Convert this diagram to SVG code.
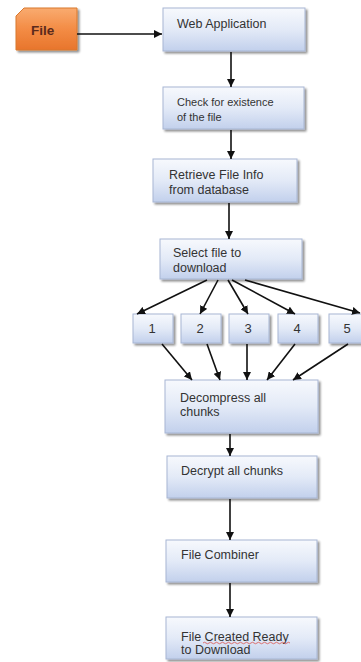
<svg xmlns="http://www.w3.org/2000/svg" width="361" height="662" viewBox="0 0 361 662">
<defs>
<linearGradient id="blue" x1="0" y1="0" x2="0" y2="1">
<stop offset="0" stop-color="#f7f9fd"/>
<stop offset="0.5" stop-color="#e3eaf7"/>
<stop offset="1" stop-color="#c2d0ec"/>
</linearGradient>
<linearGradient id="orange" x1="0" y1="0" x2="0" y2="1">
<stop offset="0" stop-color="#f9ab70"/>
<stop offset="0.5" stop-color="#f38c45"/>
<stop offset="1" stop-color="#e8752c"/>
</linearGradient>
<filter id="sh" x="-10%" y="-10%" width="130%" height="140%">
<feGaussianBlur in="SourceAlpha" stdDeviation="1.2"/>
<feOffset dx="1.5" dy="2" result="b"/>
<feComponentTransfer><feFuncA type="linear" slope="0.45"/></feComponentTransfer>
<feMerge><feMergeNode/><feMergeNode in="SourceGraphic"/></feMerge>
</filter>
<marker id="ah" viewBox="0 0 10 10" refX="10" refY="5" markerWidth="8" markerHeight="8" markerUnits="userSpaceOnUse" orient="auto">
<path d="M0,0 L10,5 L0,10 z" fill="#111"/>
</marker>
</defs>
<style>
.box{fill:url(#blue);stroke:#a7b6d3;stroke-width:1;filter:url(#sh)}
.t{font-family:"Liberation Sans",Arial,sans-serif;font-size:12.5px;fill:#333}
.s{font-size:11px}
.n{font-size:13px;text-anchor:middle}
.c{stroke:#111;stroke-width:1.6;fill:none;marker-end:url(#ah)}
</style>
<rect width="361" height="662" fill="#ffffff"/>
<g id="file">
<path d="M24,8 L77,8 L77,50 L16,50 L16,16 Z" fill="url(#orange)" stroke="#d9782f" stroke-width="1" filter="url(#sh)"/>
<text x="31" y="35" font-family="Liberation Sans,Arial,sans-serif" font-size="13.5" font-weight="bold" fill="#5b2a1c">File</text>
</g>
<g id="web">
<rect class="box" x="163" y="8" width="142" height="43"/>
<text class="t" x="177" y="28" font-size="13">Web Application</text>
</g>
<g id="check">
<rect class="box" x="163" y="87" width="141" height="42"/>
<text class="t s" x="177" y="106">Check for existence</text>
<text class="t s" x="177" y="121">of the file</text>
</g>
<g id="retrieve">
<rect class="box" x="153" y="159" width="144" height="43"/>
<text class="t" x="169" y="179">Retrieve File Info</text>
<text class="t" x="169" y="194">from database</text>
</g>
<g id="select">
<rect class="box" x="160" y="239" width="142" height="40"/>
<text class="t" x="173" y="257">Select file to</text>
<text class="t" x="173" y="272">download</text>
</g>
<g id="chunk1"><rect class="box" x="133" y="314" width="40" height="29"/><text class="t n" x="152" y="333">1</text></g>
<g id="chunk2"><rect class="box" x="181" y="314" width="40" height="29"/><text class="t n" x="200" y="333">2</text></g>
<g id="chunk3"><rect class="box" x="229" y="314" width="40" height="29"/><text class="t n" x="248" y="333">3</text></g>
<g id="chunk4"><rect class="box" x="278" y="314" width="40" height="29"/><text class="t n" x="297" y="333">4</text></g>
<g id="chunk5"><rect class="box" x="329" y="314" width="40" height="29"/><text class="t n" x="347" y="333">5</text></g>
<g id="decompress">
<rect class="box" x="165" y="380" width="153" height="53"/>
<text class="t" x="180" y="402">Decompress all</text>
<text class="t" x="180" y="416">chunks</text>
</g>
<g id="decrypt">
<rect class="box" x="167" y="456" width="150" height="42"/>
<text class="t" x="181" y="475">Decrypt all chunks</text>
</g>
<g id="combiner">
<rect class="box" x="166" y="540" width="151" height="42"/>
<text class="t" x="181" y="559">File Combiner</text>
</g>
<g id="final">
<rect class="box" x="166" y="617" width="151" height="42"/>
<text class="t" x="181" y="641">File Created Ready</text>
<text class="t" x="181" y="654">to Download</text>
<path d="M203,643 q1.5,-1.5 3,0 t3,0 t3,0 t3,0 t3,0 t3,0 t3,0 t3,0 t3,0 t3,0 t3,0 t3,0 t3,0 t3,0 t3,0 t3,0 t3,0 t3,0 t3,0 t3,0 t3,0 t3,0 t3,0 t3,0 t3,0 t3,0 t3,0 t3,0 t3,0" fill="none" stroke="#d9534f" stroke-width="0.8"/>
</g>
<g id="connectors">
<line class="c" x1="77" y1="34" x2="162" y2="34"/>
<line class="c" x1="231" y1="52" x2="231" y2="87"/>
<line class="c" x1="231" y1="130" x2="231" y2="159"/>
<line class="c" x1="229" y1="203" x2="229" y2="239"/>
<line class="c" x1="207" y1="280" x2="137" y2="314"/>
<line class="c" x1="218" y1="280" x2="200" y2="314"/>
<line class="c" x1="228" y1="280" x2="248" y2="314"/>
<line class="c" x1="232" y1="280" x2="295" y2="314"/>
<line class="c" x1="245" y1="280" x2="360" y2="313"/>
<line class="c" x1="162" y1="344" x2="192" y2="380"/>
<line class="c" x1="207" y1="344" x2="220" y2="380"/>
<line class="c" x1="247" y1="344" x2="247" y2="380"/>
<line class="c" x1="295" y1="344" x2="267" y2="380"/>
<line class="c" x1="348" y1="344" x2="293" y2="380"/>
<line class="c" x1="230" y1="434" x2="230" y2="456"/>
<line class="c" x1="230" y1="499" x2="230" y2="540"/>
<line class="c" x1="230" y1="583" x2="230" y2="617"/>
</g>
</svg>
